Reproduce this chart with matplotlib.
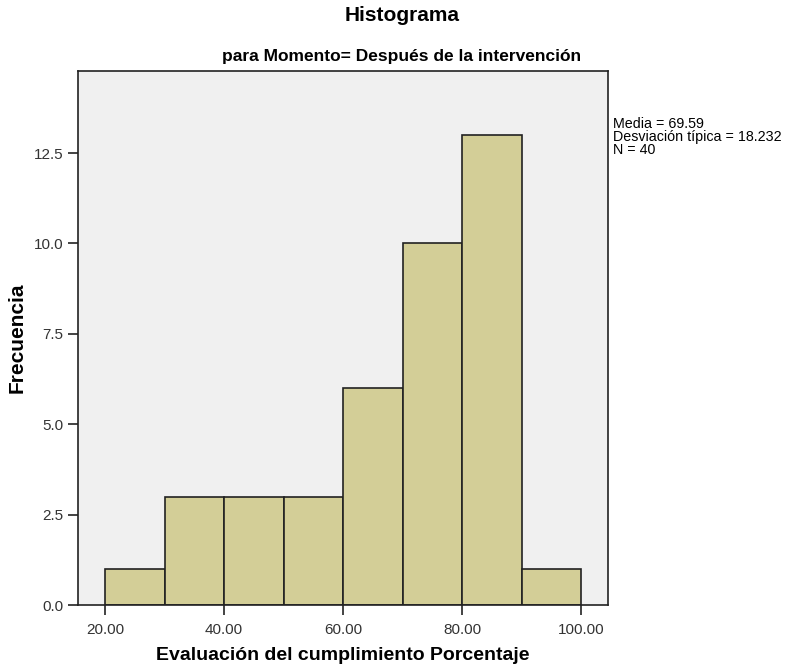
import matplotlib.pyplot as plt

bordes = [20, 30, 40, 50, 60, 70, 80, 90, 100]
frecuencias = [1, 3, 3, 3, 6, 10, 13, 1]
ticks_x = [20, 40, 60, 80, 100]
ticks_y = [0.0, 2.5, 5.0, 7.5, 10.0, 12.5]

plt.rcParams['font.family'] = ['Liberation Sans', 'DejaVu Sans']

fig = plt.figure(figsize=(7.85, 6.7), dpi=100)
ax = fig.add_axes([0.0994, 0.097, 0.6751, 0.797])
ax.set_facecolor('#f0f0f0')

anchos = [bordes[i + 1] - bordes[i] for i in range(len(frecuencias))]
ax.bar(bordes[:-1], frecuencias, width=anchos, align='edge',
       color='#d3ce97', edgecolor='#222222', linewidth=1.2)

ax.set_xlim(15.46, 104.5)
ax.set_ylim(0, 14.77)
ax.set_xticks(ticks_x)
ax.set_xticklabels([f'{t:.2f}' for t in ticks_x], fontsize=11, color='#333333')
ax.set_yticks(ticks_y)
ax.set_yticklabels([f'{t:.1f}' for t in ticks_y], fontsize=11, color='#333333')
ax.tick_params(direction='out', length=7, width=1.2, color='#222222')
ax.tick_params(axis='x', pad=6)
for s in ax.spines.values():
    s.set_linewidth(1.2)
    s.set_color('#222222')

ax.set_xlabel('Evaluación del cumplimiento Porcentaje', fontsize=14,
              fontweight='bold', labelpad=7)
ax.set_ylabel('Frecuencia', fontsize=15, fontweight='bold', labelpad=5)
fig.text(0.512, 0.977, 'Histograma', ha='center', va='center', fontsize=15,
         fontweight='bold')
fig.text(0.512, 0.916, 'para Momento= Después de la intervención',
         ha='center', va='center', fontsize=12.5, fontweight='bold')
fig.text(0.781, 0.826, 'Media = 69.59\nDesviación típica = 18.232\nN = 40',
         ha='left', va='top', fontsize=10.3, linespacing=0.95)

fig.savefig('out.png', dpi=100)
